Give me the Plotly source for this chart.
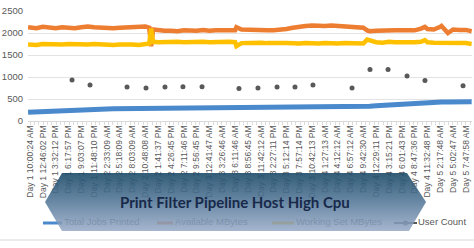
import plotly.graph_objects as go

W, H = 474, 248

# ---------------- data ----------------
tick_labels = [
    "Day 1 10:00:24 AM", "Day 1 12:46:02 PM", "Day 1 3:32:12 PM", "Day 1 6:17:57 PM",
    "Day 1 9:03:07 PM", "Day 1 11:48:10 PM", "Day 2 2:33:09 AM", "Day 2 5:18:09 AM",
    "Day 2 8:03:09 AM", "Day 2 10:48:08 AM", "Day 2 1:41:37 PM", "Day 2 4:26:45 PM",
    "Day 2 7:11:46 PM", "Day 2 9:56:45 PM", "Day 3 12:41:47 AM", "Day 3 3:26:46 AM",
    "Day 3 6:11:46 AM", "Day 3 8:56:45 AM", "Day 3 11:42:12 AM", "Day 3 2:27:11 PM",
    "Day 3 5:12:14 PM", "Day 3 7:57:14 PM", "Day 3 10:42:13 PM", "Day 4 1:27:13 AM",
    "Day 4 4:12:12 AM", "Day 4 6:57:12 AM", "Day 4 9:42:30 AM", "Day 4 12:29:11 PM",
    "Day 4 3:15:21 PM", "Day 4 6:01:43 PM", "Day 4 8:47:36 PM", "Day 4 11:32:48 PM",
    "Day 5 2:17:48 AM", "Day 5 5:02:47 AM", "Day 5 7:47:58 AM",
]

# sample positions (in units of tick-label slots)
line_pos = [-0.15, 0.5, 1, 1.5, 2, 2.5, 3, 3.5, 4, 4.5, 5, 5.5, 6, 6.5, 7, 7.5, 8, 8.5, 9,
            9.3, 9.45, 9.6, 10, 10.5, 11, 11.5, 12, 12.5, 13, 13.5, 14, 14.5, 15, 15.5, 16,
            16.1, 16.5, 17, 17.5, 18, 18.5, 19, 19.5, 20, 20.5, 21, 21.5, 22, 22.5, 23, 23.5,
            24, 24.5, 25, 25.5, 26, 26.3, 26.5, 27, 27.5, 28, 28.5, 29, 29.5, 30, 30.5, 30.8,
            31, 31.5, 32, 32.1, 32.6, 33, 33.5, 34, 34.45]

total_jobs = [200, 210, 215, 225, 235, 245, 255, 260, 265, 268, 270, 272, 275, 277, 278, 280,
              282, 283, 285, 285, 285, 285, 286, 287, 288, 289, 290, 290, 291, 292, 293, 294,
              295, 296, 297, 297, 298, 300, 304, 306, 307, 308, 309, 310, 310, 311, 312, 312,
              313, 313, 314, 314, 315, 315, 317, 325, 330, 335, 345, 355, 365, 375, 385, 398,
              410, 418, 422, 425, 428, 430, 431, 433, 435, 437, 438, 440]

available_mb = [2130, 2110, 2140, 2120, 2110, 2130, 2120, 2110, 2130, 2150, 2130, 2120, 2130,
                2110, 2120, 2130, 2140, 2160, 2150, 2120, 1700, 2080, 2060, 2050, 2050, 2040,
                2060, 2050, 2050, 2070, 2050, 2060, 2050, 2060, 2060, 2130, 2080, 2070, 2060,
                2050, 2060, 2060, 2070, 2090, 2120, 2150, 2160, 2170, 2160, 2160, 2170, 2160,
                2160, 2150, 2150, 2120, 2060, 2040, 2050, 2060, 2050, 2060, 2060, 2050, 2060,
                2100, 2140, 2090, 2080, 2140, 2160, 2000, 2080, 2070, 2070, 2040]

working_set_mb = [1740, 1730, 1750, 1740, 1730, 1740, 1750, 1740, 1730, 1740, 1750, 1740, 1740,
                  1730, 1740, 1750, 1740, 1730, 1740, 1760, 2100, 1800, 1790, 1800, 1790, 1800,
                  1790, 1800, 1790, 1800, 1790, 1800, 1790, 1800, 1790, 1700, 1770, 1780, 1770,
                  1780, 1770, 1780, 1770, 1770, 1760, 1760, 1770, 1760, 1760, 1770, 1760, 1760,
                  1770, 1760, 1760, 1760, 1850, 1830, 1790, 1780, 1800, 1790, 1780, 1790, 1790,
                  1800, 1840, 1790, 1780, 1780, 1790, 1770, 1780, 1780, 1770, 1750]

user_pos = [3.28, 4.68, 7.57, 9.05, 10.53, 11.93, 13.42, 16.3, 17.78, 19.27, 20.67, 22.07,
            25.12, 26.52, 27.93, 29.41, 30.81, 33.78]
user_count = [930, 820, 770, 750, 770, 780, 780, 740, 750, 770, 770, 820,
              750, 1170, 1170, 1020, 920, 800]

series_names = ["Total Jobs Printed", "Available MBytes", "Working Set MBytes", "User Count"]
series_colors = ["#4a89cc", "#ed7d31", "#ffc000", "#595959"]

title_text = "Print Filter Pipeline Host High Cpu"

# ---------------- figure ----------------
def px(x):
    return x / W


def py(y):
    return 1 - y / H


fig = go.Figure()

fig.add_trace(go.Scatter(x=line_pos, y=available_mb, mode="lines", name=series_names[1],
                         line=dict(color=series_colors[1], width=4.5), showlegend=False))
fig.add_trace(go.Scatter(x=line_pos, y=working_set_mb, mode="lines", name=series_names[2],
                         line=dict(color=series_colors[2], width=4.5), showlegend=False))
fig.add_trace(go.Scatter(x=line_pos, y=total_jobs, mode="lines", name=series_names[0],
                         line=dict(color=series_colors[0], width=5), showlegend=False))
fig.add_trace(go.Scatter(x=user_pos, y=user_count, mode="markers", name=series_names[3],
                         marker=dict(color=series_colors[3], size=5), showlegend=False))

# ---- overlay (pixel space) subplot: legend + banner ----
leg_y = 223
leg_items = [  # (line x0, line x1, text x)
    (43, 62, 64),
    (157, 173, 175),
    (272, 294, 296),
    (394, 417, 418),
]
for k, (x0, x1, tx) in enumerate(leg_items):
    fig.add_trace(go.Scatter(x=[x0, x1], y=[leg_y, leg_y], mode="lines",
                             line=dict(color=series_colors[k], width=3 if k < 3 else 2),
                             xaxis="x2", yaxis="y2", showlegend=False, hoverinfo="skip"))
    if k == 3:
        fig.add_trace(go.Scatter(x=[(x0 + x1) / 2], y=[leg_y], mode="markers",
                                 marker=dict(color=series_colors[k], size=5),
                                 xaxis="x2", yaxis="y2", showlegend=False, hoverinfo="skip"))
    fig.add_trace(go.Scatter(x=[tx], y=[leg_y], mode="text", text=[series_names[k]],
                             textposition="middle right",
                             textfont=dict(family="Liberation Sans", size=9.5, color="#595959"),
                             xaxis="x2", yaxis="y2", showlegend=False, hoverinfo="skip"))

banner_x = [62, 407, 426, 409, 62, 45, 62]
banner_y = [173, 173, 202, 231, 231, 202, 173]
fig.add_trace(go.Scatter(
    x=banner_x, y=banner_y, mode="lines", fill="toself",
    line=dict(width=0, color="rgba(0,0,0,0)"),
    fillgradient=dict(type="vertical", start=173, stop=231,
                      colorscale=[[0, "rgba(28,74,104,0.9)"],
                                  [0.5, "rgba(84,120,152,0.88)"],
                                  [1, "rgba(150,168,198,0.85)"]]),
    xaxis="x2", yaxis="y2", showlegend=False, hoverinfo="skip"))

fig.add_annotation(x=px(235), y=py(202), xref="paper", yref="paper", text=title_text,
                   showarrow=False, xanchor="center", yanchor="middle",
                   font=dict(family="Lato", size=15, color="#18294a", weight="bold"))

# bottom border
fig.add_shape(type="line", xref="paper", yref="paper", x0=0, x1=1, y0=py(240), y1=py(240),
              line=dict(color="#d9d9d9", width=1))

x_left, x_right = 28, 472
slot = 12.82
x0_px = 30
fig.update_layout(
    width=W, height=H,
    margin=dict(l=0, r=0, t=0, b=0),
    paper_bgcolor="white", plot_bgcolor="rgba(0,0,0,0)",
    showlegend=False,
    xaxis=dict(domain=[px(x_left), px(x_right)],
               range=[(x_left - x0_px) / slot, (x_right - x0_px) / slot],
               tickmode="array", tickvals=list(range(len(tick_labels))), ticktext=tick_labels,
               tickangle=-90, automargin=False, showgrid=False, zeroline=False,
               showline=True, linecolor="#d9d9d9", linewidth=1,
               ticks="", tickfont=dict(family="Liberation Sans", size=8.5, color="#595959"),
               minor=dict(ticks="outside", dtick=0.34, ticklen=3, tickcolor="#dcdcdc")),
    yaxis=dict(domain=[py(121), py(11)], range=[0, 2500], dtick=500,
               automargin=False, showgrid=True, gridcolor="#e3e3e3", gridwidth=1,
               zeroline=False, ticks="", ticklabelstandoff=4,
               tickfont=dict(family="Liberation Sans", size=9.5, color="#595959")),
    xaxis2=dict(domain=[0, 1], range=[0, W], visible=False, anchor="y2"),
    yaxis2=dict(domain=[0, 1], range=[H, 0], visible=False, anchor="x2"),
)

fig.write_html("out.html")
